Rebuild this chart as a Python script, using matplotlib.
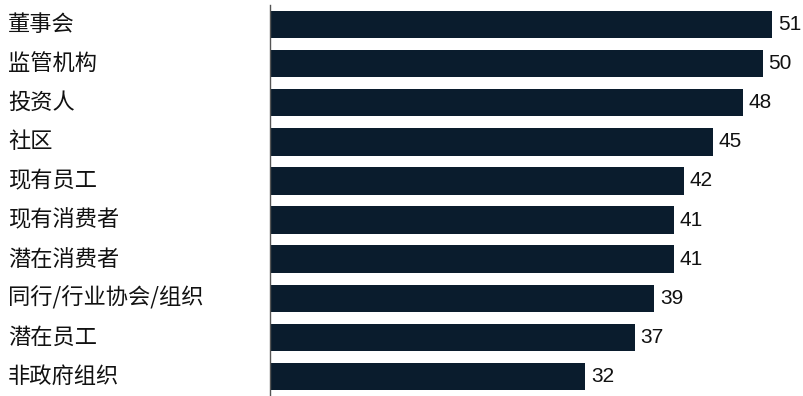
import matplotlib.pyplot as plt
import matplotlib.transforms as mtransforms

categories = [
    "董事会",
    "监管机构",
    "投资人",
    "社区",
    "现有员工",
    "现有消费者",
    "潜在消费者",
    "同行/行业协会/组织",
    "潜在员工",
    "非政府组织",
]
values = [51, 50, 48, 45, 42, 41, 41, 39, 37, 32]

bar_color = "#0a1c2d"

fig = plt.figure(figsize=(8.04, 3.96), dpi=100)
ax = fig.add_axes([270 / 804, 0, 534 / 804, 391 / 396])

ypos = list(range(len(categories)))
ax.barh(ypos, values, height=0.7, color=bar_color)

ax.set_ylim(len(categories) - 0.5, -0.5)
ax.set_xlim(0, 54.2)

# category labels, left aligned at the figure edge
trans = mtransforms.blended_transform_factory(fig.transFigure, ax.transData)
for y, name in zip(ypos, categories):
    ax.text(8 / 804, y, name, transform=trans, ha="left", va="center",
            fontsize=16, family=["Noto Sans CJK SC", "DejaVu Sans"],
            color="#111111")

# value labels
for y, v in zip(ypos, values):
    ax.annotate(str(v), (v, y), xytext=(4, 0), textcoords="offset points",
                ha="left", va="center", fontsize=15,
                family="Liberation Sans", color="#111111")

for side in ["top", "right", "bottom"]:
    ax.spines[side].set_visible(False)
ax.spines["left"].set_color("#555555")
ax.spines["left"].set_linewidth(1)
ax.set_xticks([])
ax.set_yticks([])

fig.savefig("out.png", dpi=100)
